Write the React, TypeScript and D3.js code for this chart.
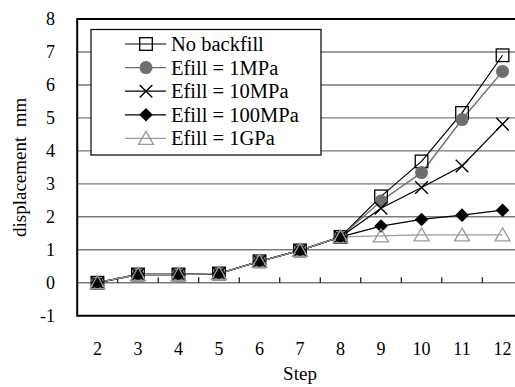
import React from "react";
import * as d3 from "d3";

const steps = ["2", "3", "4", "5", "6", "7", "8", "9", "10", "11", "12"];
const yTicks = [-1, 0, 1, 2, 3, 4, 5, 6, 7, 8];
const noBackfill = [0, 0.25, 0.25, 0.28, 0.65, 0.98, 1.39, 2.62, 3.68, 5.15, 6.9];
const efill1MPa = [0, 0.25, 0.25, 0.28, 0.65, 0.98, 1.39, 2.48, 3.34, 4.95, 6.41];
const efill10MPa = [0, 0.25, 0.25, 0.28, 0.65, 0.98, 1.39, 2.26, 2.89, 3.54, 4.81];
const efill100MPa = [0, 0.25, 0.25, 0.28, 0.65, 0.98, 1.39, 1.72, 1.92, 2.05, 2.2];
const efill1GPa = [0, 0.25, 0.25, 0.28, 0.65, 0.98, 1.39, 1.42, 1.45, 1.45, 1.45];
const seriesNames = ["No backfill", "Efill = 1MPa", "Efill = 10MPa", "Efill = 100MPa", "Efill = 1GPa"];

type Kind = "square" | "circle" | "x" | "diamond" | "triangle";
const series: { name: string; values: number[]; color: string; kind: Kind; lw: number }[] = [
  { name: seriesNames[0], values: noBackfill, color: "#000", kind: "square", lw: 1.2 },
  { name: seriesNames[1], values: efill1MPa, color: "#6e6e6e", kind: "circle", lw: 1.4 },
  { name: seriesNames[2], values: efill10MPa, color: "#000", kind: "x", lw: 1.3 },
  { name: seriesNames[3], values: efill100MPa, color: "#000", kind: "diamond", lw: 1.3 },
  { name: seriesNames[4], values: efill1GPa, color: "#9a9a9a", kind: "triangle", lw: 1.3 },
];

const FONT = '"Times New Roman", "Liberation Serif", Tinos, monospace';

function Marker({ kind, x, y, color }: { kind: Kind; x: number; y: number; color: string }) {
  const s = 6.3;
  if (kind === "square")
    return <rect x={x - s} y={y - s} width={2 * s} height={2 * s} fill="none" stroke={color} strokeWidth={1.3} />;
  if (kind === "circle") return <circle cx={x} cy={y} r={6.5} fill={color} />;
  if (kind === "x")
    return (
      <path
        d={`M${x - s},${y - s}L${x + s},${y + s}M${x - s},${y + s}L${x + s},${y - s}`}
        stroke={color}
        strokeWidth={1.4}
        fill="none"
      />
    );
  if (kind === "diamond")
    return <path d={`M${x},${y - 6.8}L${x + 6.8},${y}L${x},${y + 6.8}L${x - 6.8},${y}Z`} fill={color} />;
  return (
    <path
      d={`M${x},${y - 7}L${x + 7.5},${y + 6}L${x - 7.5},${y + 6}Z`}
      fill="none"
      stroke={color}
      strokeWidth={1.3}
    />
  );
}

export default function App() {
  const W = 515,
    H = 387;
  const left = 77.2,
    right = 522.8,
    top = 19,
    bottom = 315.7;
  const x = d3.scaleBand<string>().domain(steps).range([left, right]).padding(0);
  const cx = (s: string) => (x(s) as number) + x.bandwidth() / 2;
  const y = d3.scaleLinear().domain([-1, 8]).range([bottom, top]);
  const line = d3
    .line<number>()
    .x((_, i) => cx(steps[i]))
    .y((v) => y(v));

  const legX = 91,
    legY = 29.5,
    legW = 230,
    legH = 125.5;
  const rowY = (i: number) => 44 + i * 23.6;
  const tf = { fontFamily: FONT };

  return (
    <svg width={W} height={H} style={{ position: "absolute", left: 0, top: 0, background: "#fff" }}>
      <style>{`text { font-family: ${FONT}; }`}</style>
      <rect x={0} y={0} width={W} height={H} fill="#fff" />
      {yTicks
        .filter((t) => t >= 0 && t <= 7)
        .map((t) => (
          <line key={t} x1={left} x2={W} y1={y(t)} y2={y(t)} stroke="#7a7a7a" strokeWidth={1.4} />
        ))}
      {steps.slice(1).map((s) => (
        <line key={s} x1={x(s)} x2={x(s)} y1={y(0)} y2={y(0) - 5.5} stroke="#000" strokeWidth={1.1} />
      ))}
      <line x1={left} x2={W} y1={top} y2={top} stroke="#000" strokeWidth={2} />
      <line x1={left} x2={W} y1={bottom} y2={bottom} stroke="#000" strokeWidth={2} />
      <line x1={left} x2={left} y1={top - 1} y2={bottom + 1} stroke="#000" strokeWidth={2} />
      {yTicks.map((t) => (
        <text key={t} x={55} y={y(t) + 6.2} textAnchor="end" fontSize={18} style={tf}>
          {t}
        </text>
      ))}
      {steps.map((s) => (
        <text key={s} x={cx(s)} y={355} textAnchor="middle" fontSize={18} style={tf}>
          {s}
        </text>
      ))}
      <text x={(left + right) / 2} y={380} textAnchor="middle" fontSize={19} style={tf}>
        Step
      </text>
      <text
        transform={`translate(26,${(top + bottom) / 2}) rotate(-90)`}
        textAnchor="middle"
        fontSize={19}
        style={{ ...tf, whiteSpace: "pre" }}
      >
        {"displacement  mm"}
      </text>
      {series.map((s) => (
        <path key={s.name} d={line(s.values) || ""} fill="none" stroke={s.color} strokeWidth={s.lw} />
      ))}
      {series.map((s) => (
        <g key={s.name + "m"}>
          {s.values.map((v, i) => (
            <Marker key={i} kind={s.kind} x={cx(steps[i])} y={y(v)} color={s.color} />
          ))}
        </g>
      ))}
      <rect x={legX} y={legY} width={legW} height={legH} fill="#fff" stroke="#000" strokeWidth={1.2} />
      {series.map((s, i) => (
        <g key={s.name + "l"}>
          <line x1={125} x2={166} y1={rowY(i)} y2={rowY(i)} stroke={s.color} strokeWidth={s.lw} />
          <Marker kind={s.kind} x={146} y={rowY(i)} color={s.color} />
          <text x={171} y={rowY(i) + 7} fontSize={20.5} style={tf}>
            {s.name}
          </text>
        </g>
      ))}
    </svg>
  );
}
